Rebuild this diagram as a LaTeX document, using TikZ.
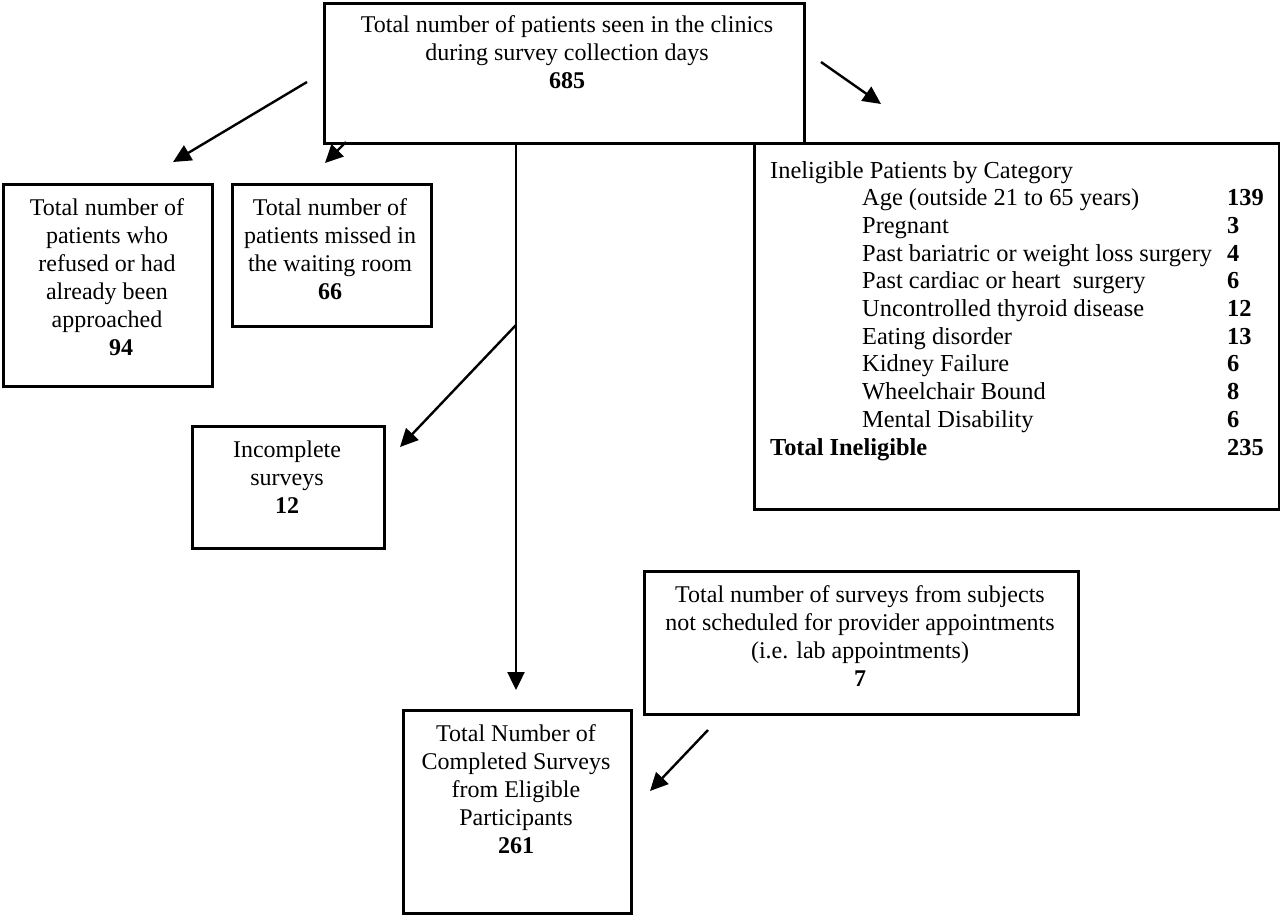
\documentclass[tikz,border=0pt]{standalone}
\usepackage{fontspec}
\setmainfont{Liberation Serif}
\usetikzlibrary{arrows.meta}
\begin{document}
\begin{tikzpicture}[x=1pt,y=-1pt,
  box/.style={draw, line width=2.6pt, inner sep=0pt, anchor=north west},
  lbl/.style={inner sep=0pt, anchor=base, font=\fontsize{24}{28}\selectfont},
  arr/.style={line width=2.4pt, -{Triangle[length=18pt,width=17pt]}}]
\useasboundingbox (0,0) rectangle (1280,914);
% boxes
\node[box, minimum width=480pt, minimum height=140pt] (topbox) at (323,2) {};
\node[box, minimum width=209pt, minimum height=202pt] (refbox) at (2,183) {};
\node[box, minimum width=199pt, minimum height=142pt] (missbox) at (231,183) {};
\node[box, minimum width=192pt, minimum height=122pt] (incbox) at (191,425) {};
\node[box, minimum width=525pt, minimum height=366pt] (inelbox) at (753,142) {};
\node[box, minimum width=434pt, minimum height=143pt] (provbox) at (643,570) {};
\node[box, minimum width=228pt, minimum height=203pt] (compbox) at (402,709) {};
% texts
\node[lbl] (toptext) at (567,32) {\begin{tabular}[t]{@{}c@{}}Total number of patients seen in the clinics\\ during survey collection days\\ \textbf{685}\end{tabular}};
\node[lbl] (reftext) at (107,215) {\begin{tabular}[t]{@{}c@{}}Total number of\\ patients who\\ refused or had\\ already been\\ approached\\ \hspace*{28pt}\textbf{94}\end{tabular}};
\node[lbl] (misstext) at (330,215) {\begin{tabular}[t]{@{}c@{}}Total number of\\ patients missed in\\ the waiting room\\ \textbf{66}\end{tabular}};
\node[lbl] (inctext) at (287,457) {\begin{tabular}[t]{@{}c@{}}Incomplete\\ surveys\\ \textbf{12}\end{tabular}};
\node[lbl] (provtext) at (860,602) {\begin{tabular}[t]{@{}c@{}}Total number of surveys from subjects\\ not scheduled for provider appointments\\ (i.e. lab appointments)\\ \textbf{7}\end{tabular}};
\node[lbl] (comptext) at (516,741) {\begin{tabular}[t]{@{}c@{}}Total Number of\\ Completed Surveys\\ from Eligible\\ Participants\\ \textbf{261}\end{tabular}};
\node[lbl, anchor=base west, font=\fontsize{24.4}{27.7}\selectfont] (ineltext) at (770,178) {\begin{tabular}[t]{@{}p{92pt}@{}p{365pt}@{}l@{}}
\multicolumn{3}{@{}l@{}}{Ineligible Patients by Category}\\
& Age (outside 21 to 65 years) & \textbf{139}\\
& Pregnant & \textbf{3}\\
& Past bariatric or weight loss surgery & \textbf{4}\\
& Past cardiac or heart\ \ surgery & \textbf{6}\\
& Uncontrolled thyroid disease & \textbf{12}\\
& Eating disorder & \textbf{13}\\
& Kidney Failure & \textbf{6}\\
& Wheelchair Bound & \textbf{8}\\
& Mental Disability & \textbf{6}\\
\multicolumn{2}{@{}l@{}}{\textbf{Total Ineligible}} & \textbf{235}
\end{tabular}};
% arrow end points
\coordinate (a1s) at (307,82);  \coordinate (a1e) at (173,162);
\coordinate (a2s) at (346,142); \coordinate (a2e) at (325,163);
\coordinate (a3s) at (821,62);  \coordinate (a3e) at (881,104);
\coordinate (vs) at (516,142);  \coordinate (ve) at (516,690);
\coordinate (br) at (516,325);  \coordinate (bre) at (400,447);
\coordinate (a5s) at (708,730); \coordinate (a5e) at (650,791);
\draw[arr] (a1s) -- (a1e);
\draw[arr] (a2s) -- (a2e);
\draw[arr] (a3s) -- (a3e);
\draw[arr] (vs) -- (ve);
\draw[arr] (br) -- (bre);
\draw[arr] (a5s) -- (a5e);
\end{tikzpicture}
\end{document}
